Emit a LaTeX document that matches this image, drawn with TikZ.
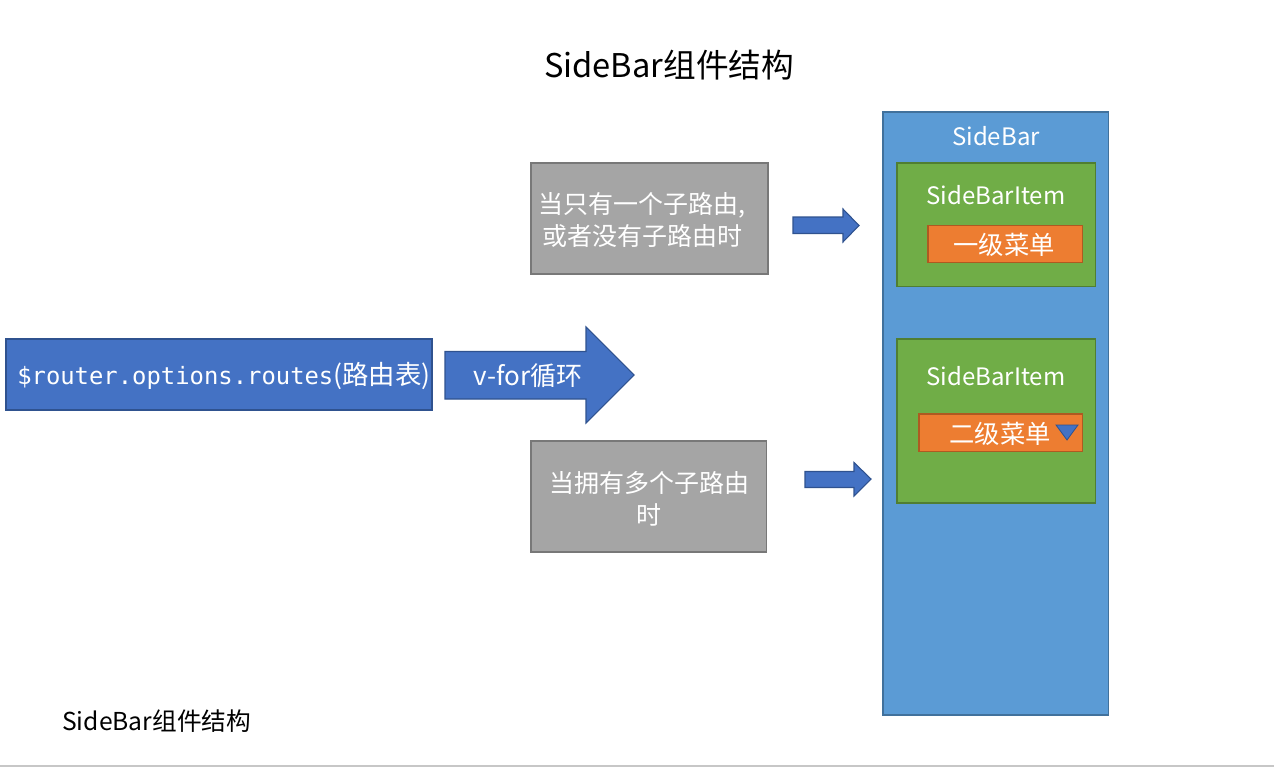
\documentclass[tikz,border=0pt]{standalone}
\usepackage{fontspec}
\setmainfont{Noto Sans CJK SC}
\newfontfamily\monofont{DejaVu Sans Mono}
\def\u{0.75pt}
\definecolor{cblue}{HTML}{4472C4}
\definecolor{cblueline}{HTML}{2F528F}
\definecolor{cgray}{HTML}{A5A5A5}
\definecolor{cgrayline}{HTML}{787878}
\definecolor{csky}{HTML}{5B9BD5}
\definecolor{cskyline}{HTML}{41719C}
\definecolor{cgreen}{HTML}{70AD47}
\definecolor{cgreenline}{HTML}{507E32}
\definecolor{corange}{HTML}{ED7D31}
\definecolor{corangeline}{HTML}{AE5A21}
\tikzset{
  boxbase/.style={rectangle, inner sep=0pt, line width=0.8pt},
  bluebox/.style={boxbase, fill=cblue, draw=cblueline},
  graybox/.style={boxbase, fill=cgray, draw=cgrayline},
  skybox/.style={boxbase, fill=csky, draw=cskyline},
  greenbox/.style={boxbase, fill=cgreen, draw=cgreenline},
  orangebox/.style={boxbase, fill=corange, draw=corangeline},
  blockarrow/.style={fill=cblue, draw=cblueline, line width=0.8pt},
  wtext/.style={text=white, inner sep=0pt, align=center},
  btext/.style={text=black, inner sep=0pt},
}
\begin{document}
\begin{tikzpicture}[x=0.75pt, y=-0.75pt]
\useasboundingbox (0,0) rectangle (1274,767);
\fill[white] (0,0) rectangle (1274,767);
\draw[color=black!22, line width=0.8pt] (0,766) -- (1274,766);

% title
\node[btext, font=\fontsize{24.5}{28}\selectfont] (title) at (669,65) {SideBar组件结构};
\node[btext, anchor=west, font=\fontsize{18.5}{22}\selectfont] (caption) at (62,721.5) {SideBar组件结构};

% left box
\node[bluebox, minimum width=426*\u, minimum height=71*\u] (routes) at (219,374.5) {};
\node[wtext, anchor=west] (routestext) at (17,376) {{\monofont\fontsize{17.9}{20}\selectfont \$router.options.routes}{\fontsize{19.8}{22}\selectfont (路由表)}};

% v-for arrow
\draw[blockarrow] (445,351.5) -- (586,351.5) -- (586,327) -- (634,375) -- (586,423) -- (586,399) -- (445,399) -- cycle;
\node[wtext, font=\fontsize{19.5}{22}\selectfont] (vfor) at (528,376) {v-for循环};

% gray boxes
\node[graybox, minimum width=237*\u, minimum height=111*\u] (g1) at (649.5,218.5) {};
\node[wtext, font=\fontsize{18.75}{23.5}\selectfont] (g1text) at (642,220) {当只有一个子路由,\\或者没有子路由时};
\node[graybox, minimum width=235.5*\u, minimum height=111*\u] (g2) at (648.75,496.5) {};
\node[wtext, font=\fontsize{18.75}{23.5}\selectfont] (g2text) at (649,499) {当拥有多个子路由\\时};

% small arrows
\draw[blockarrow] (793,217) -- (843,217) -- (843,209) -- (859,225.5) -- (843,242) -- (843,233.5) -- (793,233.5) -- cycle;
\draw[blockarrow] (805,471.5) -- (854,471.5) -- (854,462.5) -- (871,479) -- (854,496) -- (854,487.5) -- (805,487.5) -- cycle;

% SideBar
\node[skybox, minimum width=225.5*\u, minimum height=603*\u] (sidebar) at (995.75,413.5) {};
\node[wtext, font=\fontsize{18}{21}\selectfont] (sidebarlabel) at (996,136.5) {SideBar};

\node[greenbox, minimum width=198.5*\u, minimum height=123.5*\u] (item1) at (996.25,224.75) {};
\node[wtext, font=\fontsize{18}{21}\selectfont] (item1label) at (996,195) {SideBarItem};
\node[orangebox, minimum width=154.5*\u, minimum height=37*\u] (menu1) at (1005.25,244) {};
\node[wtext, font=\fontsize{19}{22}\selectfont] (menu1text) at (1004,244.5) {一级菜单};

\node[greenbox, minimum width=198.5*\u, minimum height=164*\u] (item2) at (996.25,421) {};
\node[wtext, font=\fontsize{18}{21}\selectfont] (item2label) at (996,376) {SideBarItem};
\node[orangebox, minimum width=163.5*\u, minimum height=37.5*\u] (menu2) at (1000.75,432.75) {};
\node[wtext, font=\fontsize{19}{22}\selectfont] (menu2text) at (1000,434) {二级菜单};
\draw[fill=cblue, draw=cblueline, line width=0.6pt] (1056,425) -- (1078,425) -- (1067,440) -- cycle;
\end{tikzpicture}
\end{document}
